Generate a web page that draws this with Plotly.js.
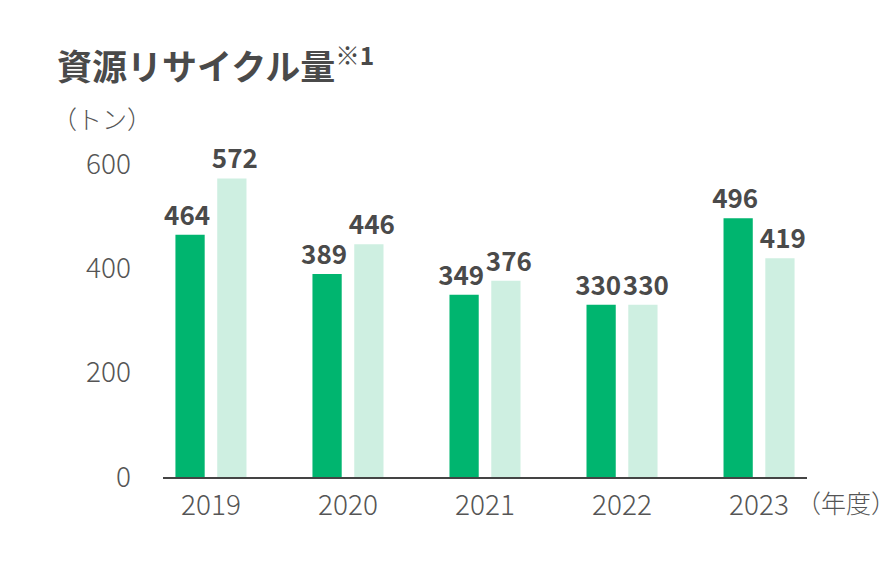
<!DOCTYPE html>
<html><head><meta charset="utf-8">
<script src="https://cdn.plot.ly/plotly-3.0.1.min.js"></script>
<style>html,body{margin:0;padding:0;background:#fff}</style>
</head><body>
<div id="chart" style="width:896px;height:563px"></div>
<script>
const years = ["2019", "2020", "2021", "2022", "2023"];
const seriesA = [464, 389, 349, 330, 496];
const seriesB = [572, 446, 376, 330, 419];
const yTicks = [0, 200, 400, 600];
const titleText = "資源リサイクル量";
const titleNote = "※1";
const unitText = "（トン）";
const xUnitText = "（年度）";

const FONT = '"Noto Sans CJK JP", "Noto Sans", sans-serif';
const DARK = "#00B56F";
const LIGHT = "#CEEFE1";
const TXT = "#4a4a4a";
const NB = "\u00a0";

const common = {
  type: "bar", x: years, textposition: "outside", cliponaxis: false, constraintext: "none",
  textfont: {family: FONT, size: 26, color: TXT, weight: 700},
  hoverinfo: "none"
};
const data = [
  Object.assign({}, common, {y: seriesA, text: seriesA.map(v => v + NB), marker: {color: DARK}}),
  Object.assign({}, common, {y: seriesB, text: seriesB.map(v => NB + v), marker: {color: LIGHT}})
];
const tickFont = {family: FONT, size: 28, color: "#555", weight: 300};
const layout = {
  width: 896, height: 563,
  margin: {l: 163, r: 89, t: 143, b: 86},
  paper_bgcolor: "#fff", plot_bgcolor: "#fff",
  barmode: "group", bargap: 0.39, bargroupgap: 0.3,
  showlegend: false,
  font: {family: FONT, color: "#555"},
  xaxis: {
    type: "category", range: [-0.35, 4.35], showgrid: false, zeroline: false,
    showline: true, linecolor: "#444", linewidth: 2,
    ticks: "", tickfont: tickFont, ticklabelstandoff: 2
  },
  yaxis: {
    range: [0, 640], showgrid: false, zeroline: false, showline: false,
    tickmode: "array", tickvals: yTicks, ticktext: yTicks.map(String),
    ticks: "", tickfont: tickFont, ticklabelstandoff: 31
  },
  annotations: [
    {xref: "paper", yref: "paper", x: -0.168, y: 1.238, xanchor: "left", yanchor: "middle",
     text: "<b>" + titleText + "<sup>" + titleNote + "</sup></b>",
     showarrow: false, font: {family: FONT, size: 35, color: TXT}},
    {xref: "paper", yref: "paper", x: -0.176, y: 1.075, xanchor: "left", yanchor: "middle",
     text: unitText, showarrow: false, font: {family: FONT, size: 25, color: "#555", weight: 300}},
    {xref: "paper", yref: "paper", x: 0.98, y: -0.075, xanchor: "left", yanchor: "middle",
     text: xUnitText, showarrow: false, font: {family: FONT, size: 25, color: "#555", weight: 300}}
  ]
};
Plotly.newPlot("chart", data, layout, {staticPlot: true, displayModeBar: false});
</script>
</body></html>
